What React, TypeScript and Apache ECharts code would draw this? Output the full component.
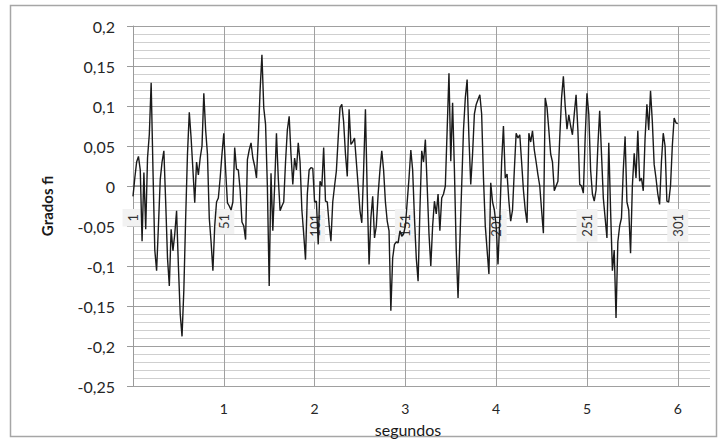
import React, { useEffect, useRef } from "react";
import * as echarts from "echarts";

// Angle samples (grados) at 50 samples per second
const s1 = [-0.013,0.01,0.03,0.037,0.02,-0.069,0.017,-0.054,0.035,0.065, 0.129,0.02,-0.08,-0.106,-0.05,0.008,0.03,0.044,-0.02,-0.09, -0.125,-0.054,-0.081,-0.06,-0.031,-0.1,-0.16,-0.188,-0.13,-0.04, 0.04,0.092,0.06,0.02,-0.021,0.03,0.014,0.035,0.05,0.116, 0.07,0.04,-0.04,-0.07,-0.106,-0.05,-0.02,-0.015,0.01,0.04];
const s2 = [0.066,0.02,-0.021,-0.025,-0.03,-0.02,0.048,0.021,0.02,-0.005, -0.045,-0.05,-0.067,0.033,0.045,0.054,0.035,0.025,0.01,0.06, 0.12,0.164,0.098,0.077,0.0,-0.125,0.016,-0.056,0.0,0.066, 0.01,-0.031,-0.025,-0.02,0.03,0.07,0.087,0.04,0.002,0.035, 0.02,0.054,0.03,-0.03,-0.06,-0.092,-0.01,0.02,0.023,0.022];
const s3 = [-0.02,-0.019,-0.073,0.006,0.0,0.048,-0.019,-0.02,-0.048,-0.069, -0.02,0.0,0.019,0.06,0.098,0.102,0.08,0.04,0.012,0.096, 0.052,0.055,0.06,0.03,0.0,-0.031,-0.046,0.02,0.096,-0.01, -0.098,-0.04,-0.013,-0.065,-0.05,-0.01,0.02,0.044,0.02,-0.02, -0.044,-0.056,-0.156,-0.09,-0.073,-0.07,-0.071,-0.056,-0.063,-0.06];
const s4 = [-0.05,-0.02,0.01,0.045,0.02,-0.04,-0.09,-0.119,-0.03,0.044, 0.03,0.058,0.0,-0.06,-0.1,-0.05,-0.019,-0.035,-0.01,-0.056, -0.015,-0.01,0.0,0.07,0.141,0.031,0.104,0.02,-0.08,-0.14, -0.07,0.0,0.07,0.11,0.133,0.06,0.002,0.04,0.09,0.102, 0.108,0.114,0.09,0.01,-0.05,-0.08,-0.11,0.004,-0.02,-0.03];
const s5 = [-0.05,-0.098,-0.04,0.03,0.075,0.01,0.015,-0.019,-0.044,-0.03, 0.02,0.066,0.06,0.064,0.03,-0.005,-0.03,-0.046,0.066,0.055, 0.069,0.045,0.03,0.014,0.0,-0.03,-0.059,0.11,0.098,0.07, 0.04,0.03,-0.006,0.0,0.006,0.06,0.11,0.137,0.1,0.071, 0.089,0.075,0.064,0.09,0.114,0.07,0.002,0.0,-0.009,0.06];
const s6 = [0.116,0.09,0.02,-0.01,-0.019,-0.005,0.05,0.094,0.04,-0.015, -0.04,-0.065,0.054,-0.03,-0.106,-0.08,-0.165,-0.07,-0.05,-0.04, 0.02,0.062,-0.02,-0.03,-0.084,0.0,0.041,0.01,0.069,0.006, 0.01,-0.006,0.06,0.102,0.07,0.119,0.08,0.027,0.01,-0.01, -0.023,0.03,0.066,0.05,-0.019,-0.02,0.0,0.05,0.085,0.079, 0.078];

const samplesPerSecond = 50;
const xMax = 6.355; // seconds shown on the axis
const yMin = -0.25;
const yMax = 0.2;
const yStep = 0.05;
const yName = "Grados fi";
const xName = "segundos";

const values = [...s1, ...s2, ...s3, ...s4, ...s5, ...s6];

const FONT = "Lato, 'Open Sans', sans-serif";

export default function App() {
  const ref = useRef<HTMLDivElement>(null);
  useEffect(() => {
    if (!ref.current) return;
    const chart = echarts.init(ref.current, undefined, { renderer: "svg" });
    const data = values.map((v, i) => [i / samplesPerSecond, v]);
    chart.setOption({
      animation: false,
      backgroundColor: "#ffffff",
      textStyle: { fontFamily: FONT },
      grid: { left: 133, top: 26, width: 577, height: 360, containLabel: false },
      graphic: [
        {
          type: "rect",
          z: -10,
          shape: { x: 10.5, y: 5.5, width: 706, height: 431 },
          style: { fill: "none", stroke: "#a6a6a6", lineWidth: 1.5 },
        },
        {
          type: "text",
          x: 47,
          y: 206,
          rotation: Math.PI / 2,
          style: {
            text: yName,
            align: "center",
            verticalAlign: "middle",
            font: `bold 15px ${FONT}`,
            fill: "#1a1a1a",
          },
        },
        {
          type: "text",
          x: 408,
          y: 429,
          style: {
            text: xName,
            align: "center",
            verticalAlign: "middle",
            font: `16px ${FONT}`,
            fill: "#1a1a1a",
          },
        },
      ],
      xAxis: [
        {
          type: "value",
          min: 0,
          max: xMax,
          interval: 1,
          position: "bottom",
          axisLine: { show: false, onZero: false },
          axisTick: { show: false },
          axisLabel: {
            showMinLabel: false,
            showMaxLabel: false,
            margin: 15,
            fontSize: 14,
            lineHeight: 14,
            color: "#262626",
            fontFamily: FONT,
          },
          splitLine: {
            show: true,
            showMinLine: false,
            showMaxLine: false,
            lineStyle: { color: "#a0a0a0", width: 1 },
          },
        },
        {
          type: "value",
          min: 0,
          max: xMax,
          interval: 1,
          position: "bottom",
          offset: -200,
          axisLine: { show: true, onZero: false, lineStyle: { color: "#8c8c8c", width: 1.5 } },
          axisTick: { show: false },
          splitLine: { show: false },
          axisLabel: {
            showMaxLabel: false,
            rotate: 90,
            margin: 23,
            fontSize: 13,
            color: "#333",
            fontFamily: FONT,
            backgroundColor: "#f2f2f2",
            padding: [4, 5],
            formatter: (v: number) => String(Math.round(v * samplesPerSecond) + 1),
          },
        },
      ],
      yAxis: {
        type: "value",
        min: yMin,
        max: yMax,
        interval: yStep,
        axisLine: { show: true, lineStyle: { color: "#9a9a9a", width: 1 } },
        axisTick: { show: true, length: 6, lineStyle: { color: "#9a9a9a" } },
        axisLabel: {
          margin: 18,
          fontSize: 16,
          color: "#262626",
          fontFamily: FONT,
          formatter: (v: number) => String(+v.toFixed(2)).replace(".", ","),
        },
        splitLine: { show: true, lineStyle: { color: "#a0a0a0", width: 1 } },
        minorTick: { show: false, splitNumber: 5 },
        minorSplitLine: { show: true, lineStyle: { color: "#cfcfcf", width: 1 } },
      },
      series: [
        {
          type: "line",
          xAxisIndex: 0,
          data,
          showSymbol: false,
          symbol: "none",
          lineStyle: { color: "#1a1a1a", width: 1.4 },
          z: 5,
        },
      ],
    });
    return () => chart.dispose();
  }, []);
  return (
    <div
      ref={ref}
      style={{ position: "absolute", left: 0, top: 0, width: 721, height: 439 }}
    />
  );
}
